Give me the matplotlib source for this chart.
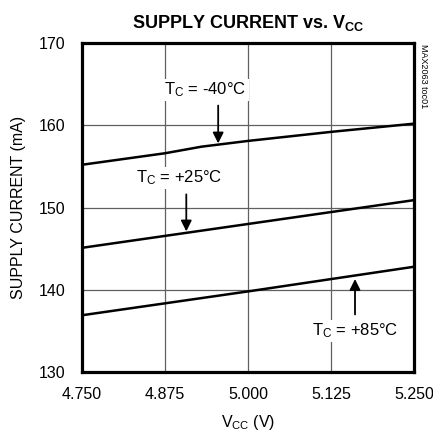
import numpy as np
import matplotlib
matplotlib.use("Agg")
import matplotlib.pyplot as plt

plt.rcParams['font.family'] = ['Liberation Sans', 'DejaVu Sans']
plt.rcParams['mathtext.fontset'] = 'custom'
plt.rcParams['mathtext.rm'] = 'Liberation Sans'
plt.rcParams['mathtext.bf'] = 'Liberation Sans:bold'
plt.rcParams['mathtext.default'] = 'regular'

# data
vcc_m40 = [4.750, 4.875, 4.930, 5.000, 5.125, 5.250]
cur_m40 = [155.2, 156.6, 157.4, 158.1, 159.2, 160.2]

vcc_25 = [4.750, 5.000, 5.250]
cur_25 = [145.1, 148.0, 150.9]

vcc_85 = [4.750, 5.000, 5.250]
cur_85 = [136.9, 139.8, 142.8]

xticks = [4.750, 4.875, 5.000, 5.125, 5.250]
xtick_labels = ['4.750', '4.875', '5.000', '5.125', '5.250']
yticks = [130, 140, 150, 160, 170]

fig = plt.figure(figsize=(4.33, 4.38), dpi=100)
ax = fig.add_axes([0.1894, 0.1507, 0.767, 0.751])

ax.plot(vcc_m40, cur_m40, color='black', lw=1.8, zorder=3)
ax.plot(vcc_25, cur_25, color='black', lw=1.8, zorder=3)
ax.plot(vcc_85, cur_85, color='black', lw=1.8, zorder=3)

ax.set_xlim(4.75, 5.25)
ax.set_ylim(130, 170)
ax.set_xticks(xticks)
ax.set_xticklabels(xtick_labels)
ax.set_yticks(yticks)
ax.tick_params(length=0, labelsize=11.5)
ax.tick_params(axis='x', pad=11)
ax.tick_params(axis='y', pad=12)
ax.grid(True, color='#606060', lw=0.9, zorder=0)
for s in ax.spines.values():
    s.set_linewidth(2.3)

ax.set_xlabel('$V_{CC}$ (V)', fontsize=11.5, labelpad=8)
ax.set_ylabel('SUPPLY CURRENT (mA)', fontsize=11.5, labelpad=9)
ax.set_title(r'SUPPLY CURRENT vs. $\mathbf{V_{CC}}$', fontsize=13, fontweight='bold', pad=11)

box = dict(facecolor='white', edgecolor='none', pad=1.5)
arrow = dict(arrowstyle='-|>', color='black', lw=1.3, mutation_scale=16, shrinkA=0, shrinkB=0)

ax.annotate('', xy=(4.955, 157.8), xytext=(4.955, 162.4), arrowprops=arrow, zorder=4)
ax.text(4.936, 164.3, '$T_C$ = -40°C', fontsize=12, ha='center', va='center', bbox=box, zorder=2)

ax.annotate('', xy=(4.907, 147.1), xytext=(4.907, 151.6), arrowprops=arrow, zorder=4)
ax.text(4.897, 153.6, '$T_C$ = +25°C', fontsize=12, ha='center', va='center', bbox=box, zorder=2)

ax.annotate('', xy=(5.161, 141.3), xytext=(5.161, 137.0), arrowprops=arrow, zorder=4)
ax.text(5.161, 135.0, '$T_C$ = +85°C', fontsize=12, ha='center', va='center', bbox=box, zorder=2)

fig.text(0.978, 0.9, 'MAX2063 toc01', rotation=270, fontsize=6.5, ha='center', va='top')

fig.savefig('out.png', dpi=100)
